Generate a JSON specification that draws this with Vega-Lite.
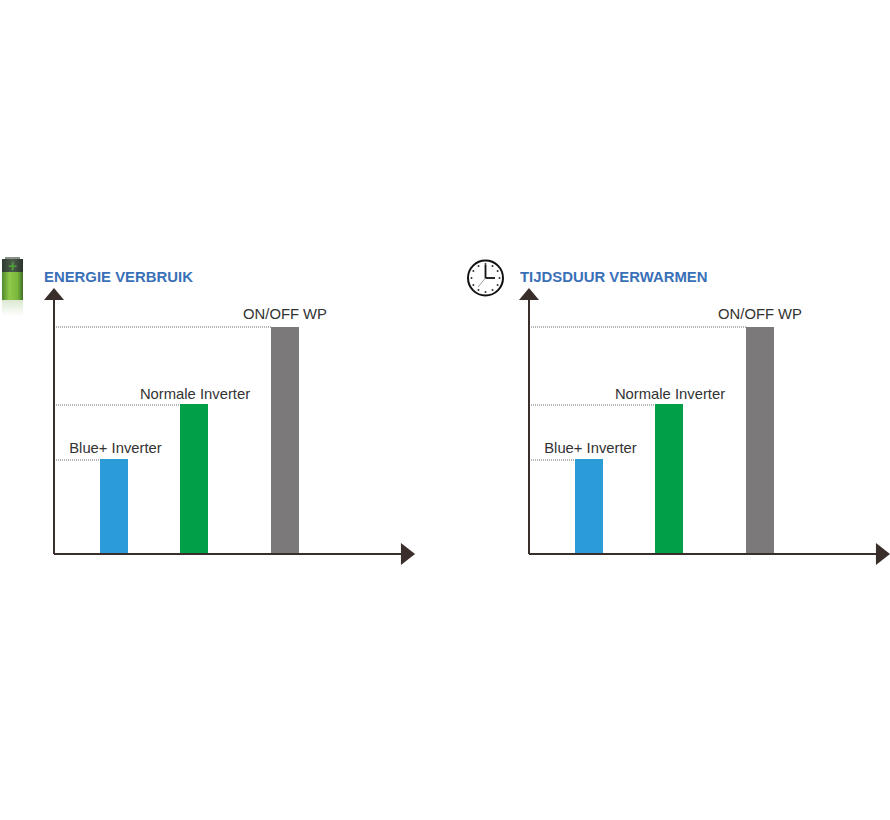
{
"$schema":"https://vega.github.io/schema/vega-lite/v6.json",
"padding":{"left":0,"top":250,"right":0,"bottom":0},
"autosize":{"type":"pad"},
"background":"white",
"config":{"view":{"stroke":null},"text":{"font":"Liberation Sans"}},
"spacing":39,
"datasets":{
"bars":[{"name":"Blue+ Inverter","x":46,"x2":74,"y":0,"y2":95},{"name":"Normale Inverter","x":126,"x2":154,"y":0,"y2":150},{"name":"ON/OFF WP","x":217,"x2":245,"y":0,"y2":227}],
"guides":[{"name":"Blue+ Inverter","x":0,"x2":46,"y":94},{"name":"Normale Inverter","x":0,"x2":126,"y":149},{"name":"ON/OFF WP","x":0,"x2":217,"y":227}],
"labels":[{"name":"Blue+ Inverter","x":61.5,"y":105.5},{"name":"Normale Inverter","x":141,"y":159.5},{"name":"ON/OFF WP","x":231,"y":239.5}],
"xaxis":[{"x":0,"x2":350,"y":0}],
"yaxis":[{"x":0,"y":0,"y2":256}],
"tipUp":[{"x":0,"y":260}],
"tipRight":[{"x":354,"y":0}],
"title1":[{"t":"ENERGIE VERBRUIK","x":-10,"y":276.5}],
"title2":[{"t":"TIJDSDUUR VERWARMEN","x":-9,"y":276.5}],
"batCap":[{"x":-49,"x2":-34,"y":295,"y2":297}],
"batTop":[{"x":-52,"x2":-31,"y":282,"y2":295}],
"batBody":[{"x":-52,"x2":-31,"y":254,"y2":282}],
"batGlow":[{"x":-52,"x2":-31,"y":238,"y2":254}],
"batPlus":[{"t":"+","x":-41.5,"y":288}],
"clockFace":[{"x":-43.5,"y":276}],
"clockTicks":[{"x":-43.5,"y":290},{"x":-36.5,"y":288.1},{"x":-31.4,"y":283},{"x":-29.5,"y":276},{"x":-31.4,"y":269},{"x":-36.5,"y":263.9},{"x":-43.5,"y":262},{"x":-50.5,"y":263.9},{"x":-55.6,"y":269},{"x":-57.5,"y":276},{"x":-55.6,"y":283},{"x":-50.5,"y":288.1}],
"handV":[{"x":-43.5,"y":276,"y2":289}],
"handH":[{"x":-43.5,"x2":-34,"y":276}],
"handS":[{"h":1,"x":-43.5,"y":276},{"h":1,"x":-51,"y":267}]
},
"hconcat":[
{"width":425,"height":330,
"encoding":{"x":{"field":"x","type":"quantitative","scale":{"domain":[-54,371],"nice":false,"zero":false},"axis":null},"y":{"field":"y","type":"quantitative","scale":{"domain":[-26,304],"nice":false,"zero":false},"axis":null}},
"layer":[
{"data":{"name":"guides"},"mark":{"type":"rule","color":"#6b6b6b","strokeWidth":1,"strokeDash":[1,1]},"encoding":{"x2":{"field":"x2"}}},
{"data":{"name":"bars"},"mark":{"type":"rect"},"encoding":{"x2":{"field":"x2"},"y2":{"field":"y2"},"color":{"field":"name","type":"nominal","legend":null,"scale":{"domain":["Blue+ Inverter","Normale Inverter","ON/OFF WP"],"range":["#2b9cd8","#009f48","#7b7979"]}}}},
{"data":{"name":"xaxis"},"mark":{"type":"rule","color":"#3a2e2b","strokeWidth":2},"encoding":{"x2":{"field":"x2"}}},
{"data":{"name":"yaxis"},"mark":{"type":"rule","color":"#3a2e2b","strokeWidth":2},"encoding":{"y2":{"field":"y2"}}},
{"data":{"name":"tipUp"},"mark":{"type":"point","filled":true,"opacity":1,"color":"#3a2e2b","size":400,"shape":"M-1,0.6L1,0.6L0,-0.6Z"}},
{"data":{"name":"tipRight"},"mark":{"type":"point","filled":true,"opacity":1,"color":"#3a2e2b","size":484,"shape":"M-0.64,-1L0.64,0L-0.64,1Z"}},
{"data":{"name":"labels"},"mark":{"type":"text","fontSize":14.8,"color":"#333333","align":"center","baseline":"middle"},"encoding":{"text":{"field":"name"}}},
{"data":{"name":"title1"},"mark":{"type":"text","fontSize":14.9,"fontWeight":"bold","color":"#3a70b7","align":"left","baseline":"middle"},"encoding":{"text":{"field":"t"}}},
{"data":{"name":"batGlow"},"mark":{"type":"rect","color":{"gradient":"linear","x1":0,"y1":0,"x2":0,"y2":1,"stops":[{"offset":0,"color":"#dbe8d0"},{"offset":1,"color":"#ffffff"}]}},"encoding":{"x2":{"field":"x2"},"y2":{"field":"y2"}}},
{"data":{"name":"batBody"},"mark":{"type":"rect","color":{"gradient":"linear","x1":0,"y1":0,"x2":1,"y2":0,"stops":[{"offset":0,"color":"#4f8a2c"},{"offset":0.35,"color":"#8fc94a"},{"offset":0.75,"color":"#79b73d"},{"offset":1,"color":"#3f6f24"}]}},"encoding":{"x2":{"field":"x2"},"y2":{"field":"y2"}}},
{"data":{"name":"batTop"},"mark":{"type":"rect","color":{"gradient":"linear","x1":0,"y1":0,"x2":1,"y2":0,"stops":[{"offset":0,"color":"#2f3a30"},{"offset":0.5,"color":"#4c5e4c"},{"offset":1,"color":"#2a332b"}]}},"encoding":{"x2":{"field":"x2"},"y2":{"field":"y2"}}},
{"data":{"name":"batCap"},"mark":{"type":"rect","color":"#8a8f88"},"encoding":{"x2":{"field":"x2"},"y2":{"field":"y2"}}},
{"data":{"name":"batPlus"},"mark":{"type":"text","fontSize":15,"fontWeight":"bold","color":"#4f9f35","align":"center","baseline":"middle"},"encoding":{"text":{"field":"t"}}}
]},
{"width":425,"height":330,
"encoding":{"x":{"field":"x","type":"quantitative","scale":{"domain":[-63,362],"nice":false,"zero":false},"axis":null},"y":{"field":"y","type":"quantitative","scale":{"domain":[-26,304],"nice":false,"zero":false},"axis":null}},
"layer":[
{"data":{"name":"guides"},"mark":{"type":"rule","color":"#6b6b6b","strokeWidth":1,"strokeDash":[1,1]},"encoding":{"x2":{"field":"x2"}}},
{"data":{"name":"bars"},"mark":{"type":"rect"},"encoding":{"x2":{"field":"x2"},"y2":{"field":"y2"},"color":{"field":"name","type":"nominal","legend":null,"scale":{"domain":["Blue+ Inverter","Normale Inverter","ON/OFF WP"],"range":["#2b9cd8","#009f48","#7b7979"]}}}},
{"data":{"name":"xaxis"},"mark":{"type":"rule","color":"#3a2e2b","strokeWidth":2},"encoding":{"x2":{"field":"x2"}}},
{"data":{"name":"yaxis"},"mark":{"type":"rule","color":"#3a2e2b","strokeWidth":2},"encoding":{"y2":{"field":"y2"}}},
{"data":{"name":"tipUp"},"mark":{"type":"point","filled":true,"opacity":1,"color":"#3a2e2b","size":400,"shape":"M-1,0.6L1,0.6L0,-0.6Z"}},
{"data":{"name":"tipRight"},"mark":{"type":"point","filled":true,"opacity":1,"color":"#3a2e2b","size":484,"shape":"M-0.64,-1L0.64,0L-0.64,1Z"}},
{"data":{"name":"labels"},"mark":{"type":"text","fontSize":14.8,"color":"#333333","align":"center","baseline":"middle"},"encoding":{"text":{"field":"name"}}},
{"data":{"name":"title2"},"mark":{"type":"text","fontSize":14.9,"fontWeight":"bold","color":"#3a70b7","align":"left","baseline":"middle"},"encoding":{"text":{"field":"t"}}},
{"data":{"name":"clockFace"},"mark":{"type":"point","shape":"circle","filled":false,"opacity":1,"stroke":"#111111","strokeWidth":2,"size":1225}},
{"data":{"name":"clockTicks"},"mark":{"type":"point","shape":"circle","filled":true,"opacity":1,"color":"#333333","size":4}},
{"data":{"name":"handS"},"mark":{"type":"line","color":"#999999","strokeWidth":1},"encoding":{"order":{"field":"h"}}},
{"data":{"name":"handV"},"mark":{"type":"rule","color":"#111111","strokeWidth":1.8},"encoding":{"y2":{"field":"y2"}}},
{"data":{"name":"handH"},"mark":{"type":"rule","color":"#111111","strokeWidth":1.8},"encoding":{"x2":{"field":"x2"}}}
]}
]
}
